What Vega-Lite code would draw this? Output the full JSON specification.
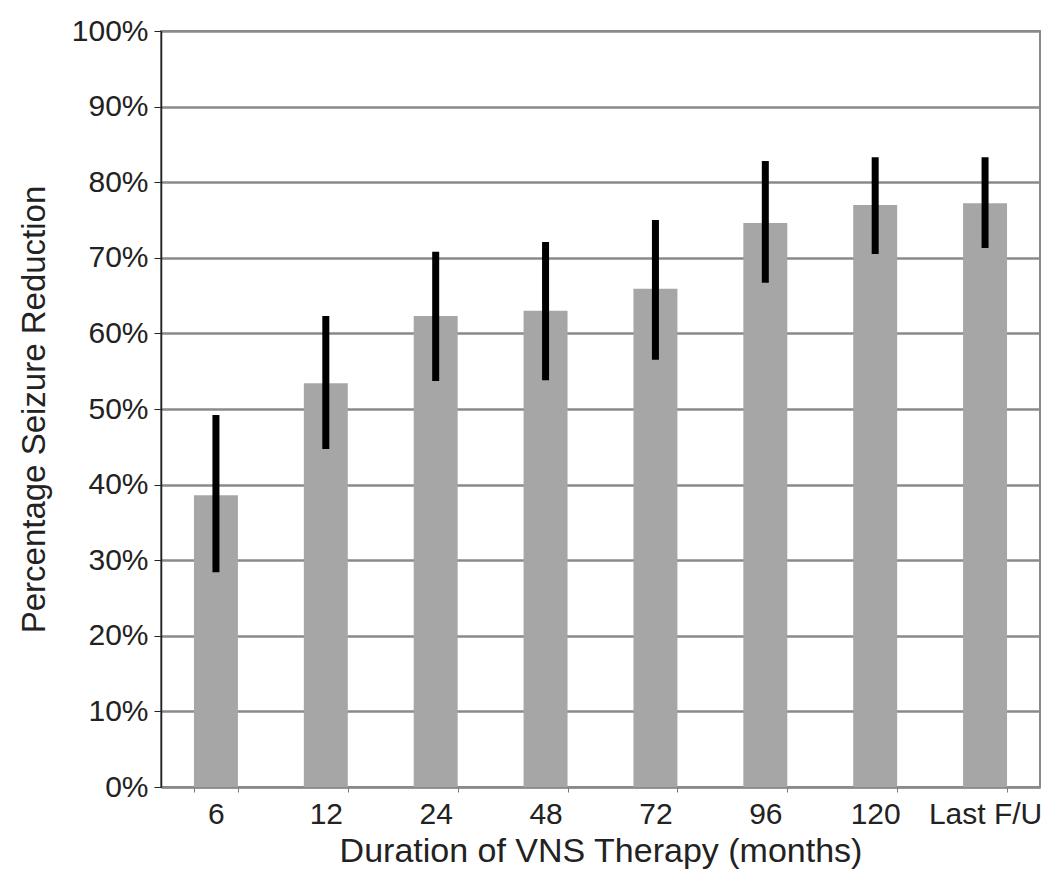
{
  "$schema": "https://vega.github.io/schema/vega-lite/v6.json",
  "width": 879,
  "height": 756,
  "autosize": "none",
  "padding": {"left": 161, "top": 31, "right": 5, "bottom": 85},
  "background": "white",
  "config": {
    "font": "Liberation Sans",
    "view": {"stroke": "#8a8a8a", "strokeWidth": 2}
  },
  "data": {
    "values": [
      {"duration": "6", "mean": 0.386, "lo": 0.284, "hi": 0.492},
      {"duration": "12", "mean": 0.534, "lo": 0.447, "hi": 0.623},
      {"duration": "24", "mean": 0.623, "lo": 0.537, "hi": 0.708},
      {"duration": "48", "mean": 0.630, "lo": 0.538, "hi": 0.721},
      {"duration": "72", "mean": 0.659, "lo": 0.565, "hi": 0.750},
      {"duration": "96", "mean": 0.746, "lo": 0.667, "hi": 0.828},
      {"duration": "120", "mean": 0.770, "lo": 0.705, "hi": 0.833},
      {"duration": "Last F/U", "mean": 0.772, "lo": 0.713, "hi": 0.833}
    ]
  },
  "encoding": {
    "x": {
      "field": "duration",
      "type": "nominal",
      "sort": null,
      "scale": {"paddingInner": 0.6, "paddingOuter": 0.3},
      "axis": {
        "title": "Duration of VNS Therapy (months)",
        "titleFontSize": 34,
        "titleFontWeight": "normal",
        "titleColor": "#222",
        "titlePadding": 5,
        "labelAngle": 0,
        "labelFontSize": 30,
        "labelColor": "#222",
        "labelPadding": 7,
        "tickBand": "extent",
        "tickSize": 5,
        "tickColor": "#777",
        "domainColor": "#8a8a8a",
        "domainWidth": 2
      }
    }
  },
  "layer": [
    {
      "mark": {"type": "bar", "color": "#a6a6a6"},
      "encoding": {
        "y": {
          "field": "mean",
          "type": "quantitative",
          "scale": {"domain": [0, 1]},
          "axis": {
            "title": "Percentage Seizure Reduction",
            "titleFontSize": 33,
            "titleFontWeight": "normal",
            "titleColor": "#222",
            "titlePadding": 20,
            "format": ".0%",
            "values": [0, 0.1, 0.2, 0.3, 0.4, 0.5, 0.6, 0.7, 0.8, 0.9, 1.0],
            "labelFontSize": 30,
            "labelColor": "#222",
            "labelPadding": 6,
            "tickSize": 7,
            "tickColor": "#222",
            "domainColor": "#222",
            "domainWidth": 1.5,
            "grid": true,
            "gridColor": "#8a8a8a",
            "gridWidth": 2.5
          }
        }
      }
    },
    {
      "mark": {"type": "rule", "color": "black", "strokeWidth": 7},
      "encoding": {
        "y": {"field": "lo", "type": "quantitative"},
        "y2": {"field": "hi"}
      }
    }
  ]
}
